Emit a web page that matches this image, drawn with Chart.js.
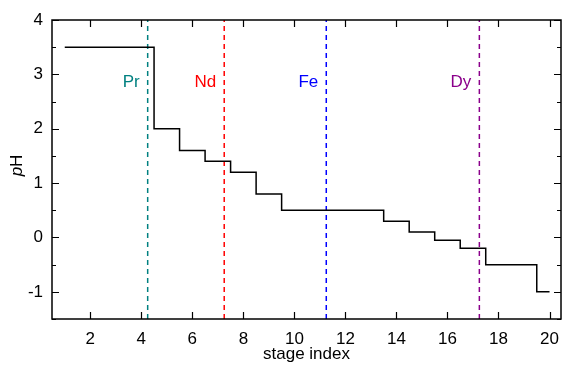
<!DOCTYPE html>
<html>
<head>
<meta charset="utf-8">
<script src="https://cdn.jsdelivr.net/npm/chart.js@4/dist/chart.umd.min.js"></script>
<style>
  html, body { margin: 0; padding: 0; background: #fff; }
  #wrap { width: 563px; height: 365px; }
</style>
</head>
<body>
<div id="wrap"><canvas id="stages"></canvas></div>
<script>
// pH profile per stage
var stages = [1, 2, 3, 4, 5, 6, 7, 8, 9, 10, 11, 12, 13, 14, 15, 16, 17, 18, 19, 20];
var pH = [3.5, 3.5, 3.5, 3.5, 2, 1.6, 1.4, 1.2, 0.8, 0.5, 0.5, 0.5, 0.5, 0.3, 0.1, -0.05, -0.2, -0.5, -0.5, -1];

// element boundaries
var elements = ['Pr', 'Nd', 'Fe', 'Dy'];
var elementX = [4.25, 7.25, 11.25, 17.25];
var elementColors = ['#008080', '#ff0000', '#0000ff', '#8b008b'];
var labelY = 2.85;

var xTicks = [2, 4, 6, 8, 10, 12, 14, 16, 18, 20];
var yTicks = [-1, 0, 1, 2, 3, 4];

var FONT = "'Liberation Sans', Arial, sans-serif";

var datasets = [{
  label: 'pH',
  data: stages.map(function (s, i) { return { x: s, y: pH[i] }; }),
  borderColor: '#000',
  borderWidth: 1.5,
  stepped: 'middle',
  pointRadius: 0,
  fill: false
}];
elements.forEach(function (el, i) {
  datasets.push({
    label: el,
    data: [{ x: elementX[i], y: -1.5 }, { x: elementX[i], y: 4 }],
    borderColor: elementColors[i],
    borderWidth: 1.5,
    borderDash: [5, 4],
    pointRadius: 0,
    fill: false
  });
});

// frame with inward ticks, element labels and the pH title
var decor = {
  id: 'decor',
  afterDraw: function (chart) {
    var c = chart.ctx, a = chart.chartArea;
    var xs = chart.scales.x, ys = chart.scales.y;
    c.save();
    c.strokeStyle = '#000';
    c.lineWidth = 1.5;
    c.strokeRect(a.left, a.top, a.right - a.left, a.bottom - a.top);
    c.lineWidth = 1.2;
    c.beginPath();
    xTicks.forEach(function (v) {
      var px = Math.round(xs.getPixelForValue(v)) + 0.5;
      c.moveTo(px, a.bottom); c.lineTo(px, a.bottom - 7);
      c.moveTo(px, a.top); c.lineTo(px, a.top + 7);
    });
    for (var v = -1.5; v <= 4; v += 0.5) {
      var py = Math.round(ys.getPixelForValue(v)) + 0.5;
      var len = (v % 1 === 0) ? 7 : 4;
      c.moveTo(a.left, py); c.lineTo(a.left + len, py);
      c.moveTo(a.right, py); c.lineTo(a.right - len, py);
    }
    c.stroke();

    c.font = '17px ' + FONT;
    c.textAlign = 'right';
    c.textBaseline = 'middle';
    elements.forEach(function (el, i) {
      c.fillStyle = elementColors[i];
      c.fillText(el, xs.getPixelForValue(elementX[i]) - 8, ys.getPixelForValue(labelY));
    });

    // y title: italic p + upright H
    c.translate(17, (a.top + a.bottom) / 2 - 4);
    c.rotate(-Math.PI / 2);
    c.fillStyle = '#000';
    c.textBaseline = 'middle';
    c.textAlign = 'left';
    c.font = 'italic 17px ' + FONT;
    var wp = c.measureText('p').width;
    c.font = '17px ' + FONT;
    var wh = c.measureText('H').width;
    var x0 = -(wp + wh) / 2;
    c.font = 'italic 17px ' + FONT;
    c.fillText('p', x0, 0);
    c.font = '17px ' + FONT;
    c.fillText('H', x0 + wp, 0);
    c.restore();
  }
};

var ctx = document.getElementById('stages').getContext('2d');
var chart = new Chart(ctx, {
  type: 'line',
  data: { datasets: datasets },
  options: {
    responsive: true,
    maintainAspectRatio: false,
    animation: false,
    layout: { padding: { top: 20, right: 2, left: 0, bottom: 0 } },
    plugins: { legend: { display: false }, tooltip: { enabled: false } },
    scales: {
      x: {
        type: 'linear',
        min: 0.5,
        max: 20.45,
        afterBuildTicks: function (s) { s.ticks = xTicks.map(function (v) { return { value: v }; }); },
        afterFit: function (s) { s.height = 46; s.paddingLeft = 0; s.paddingRight = 0; },
        grid: { display: false, drawTicks: false },
        border: { display: false },
        ticks: { color: '#000', padding: 10, maxRotation: 0, font: { family: FONT, size: 17 } },
        title: { display: true, text: 'stage index', color: '#000', padding: 0, font: { family: FONT, size: 17 } }
      },
      y: {
        min: -1.5,
        max: 4,
        afterBuildTicks: function (s) { s.ticks = yTicks.map(function (v) { return { value: v }; }); },
        afterFit: function (s) { s.width = 52; s.paddingTop = 0; s.paddingBottom = 0; },
        grid: { display: false, drawTicks: false },
        border: { display: false },
        ticks: { color: '#000', padding: 9, font: { family: FONT, size: 17 } }
      }
    }
  },
  plugins: [decor]
});
</script>
</body>
</html>
